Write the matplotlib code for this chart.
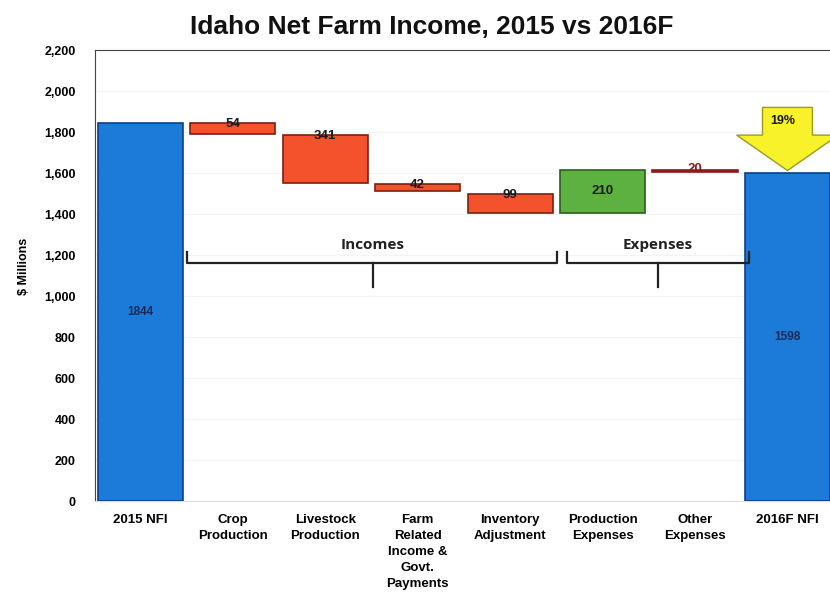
import matplotlib
matplotlib.use("Agg")
import matplotlib.pyplot as plt
from matplotlib.patches import Polygon

plt.rcParams['font.family'] = ['Liberation Sans Narrow', 'Liberation Sans', 'DejaVu Sans']

categories = ["2015 NFI", "Crop\nProduction", "Livestock\nProduction",
              "Farm\nRelated\nIncome &\nGovt.\nPayments", "Inventory\nAdjustment",
              "Production\nExpenses", "Other\nExpenses", "2016F NFI"]
# bar bottoms and tops as drawn in the picture ($ millions)
bar_low = [0, 1790, 1550, 1510, 1405, 1405, 1604, 0]
bar_high = [1844, 1844, 1785, 1545, 1500, 1615, 1614, 1598]
labels = ["1844", "54", "341", "42", "99", "210", "20", "1598"]
kinds = ["total", "inc", "inc", "inc", "inc", "exp", "other", "total"]
change_pct = "19%"

colors = {"total": "#1c7ad9", "inc": "#f4522c", "exp": "#5db141", "other": "#8e1b1b"}
edges = {"total": "#0d3f8a", "inc": "#7a2010", "exp": "#2f5e1f", "other": "#8e1b1b"}

fig = plt.figure(figsize=(8.3, 5.99), dpi=100)
ax = fig.add_axes([0.1145, 0.1636, 0.8855, 0.7529])

x = list(range(len(categories)))
for i in x:
    k = kinds[i]
    ax.bar(i, bar_high[i] - bar_low[i], bottom=bar_low[i], width=0.92,
           color=colors[k], edgecolor=edges[k], linewidth=1.2, zorder=3)

# value labels
for i in x:
    k = kinds[i]
    if k == "total":
        ax.text(i, bar_high[i] / 2, labels[i], ha="center", va="center",
                fontsize=8.5, fontweight="bold", color="#1a2a55", zorder=5)
    elif k == "exp":
        ax.text(i, (bar_low[i] + bar_high[i]) / 2, labels[i], ha="center", va="center",
                fontsize=9.5, fontweight="bold", color="#1a1a1a", zorder=5)
    elif k == "other":
        ax.text(i, bar_high[i] + 5, labels[i], ha="center", va="center",
                fontsize=9.5, fontweight="bold", color="#8e1b1b", zorder=5)
    else:
        ax.text(i, bar_high[i] - 5, labels[i], ha="center", va="center",
                fontsize=9.5, fontweight="bold", color="#1a1a1a", zorder=5)

# braces
def brace(x0, x1, xm, y, ytop, ybot, label):
    ax.plot([x0, x0, x1, x1], [ytop, y, y, ytop], color="#222222", lw=1.6, zorder=4)
    ax.plot([xm, xm], [y, ybot], color="#222222", lw=1.6, zorder=4)
    ax.text((x0 + x1) / 2, ytop, label, ha="center", va="bottom",
            fontsize=11, fontweight="bold", family=["Open Sans", "DejaVu Sans"], color="#222222")

brace(0.51, 4.51, 2.52, 1160, 1215, 1045, "Incomes")
brace(4.62, 6.58, 5.6, 1160, 1215, 1045, "Expenses")

# yellow arrow above 2016F
xa = 7
arrow = Polygon([[xa - 0.27, 1920], [xa + 0.27, 1920], [xa + 0.27, 1785],
                 [xa + 0.55, 1785], [xa, 1612], [xa - 0.55, 1785], [xa - 0.27, 1785]],
                closed=True, facecolor="#f8f22a", edgecolor="#9a9a20", lw=1.0,
                zorder=6, clip_on=False)
ax.add_patch(arrow)
ax.text(xa - 0.05, 1855, change_pct, ha="center", va="center", fontsize=9,
        fontweight="bold", color="#1a1a1a", zorder=7)

ax.set_xlim(-0.49, 7.46)
ax.set_ylim(0, 2200)
ax.set_yticks(range(0, 2201, 200))
ax.set_yticklabels([f"{v:,}" for v in range(0, 2201, 200)], fontsize=9, fontweight="bold",
                   family=["Liberation Sans", "DejaVu Sans"])
ax.set_xticks(x)
ax.set_xticklabels(categories, fontsize=9.5, fontweight="bold", linespacing=1.45,
                   family=["Liberation Sans Narrow", "Liberation Sans", "DejaVu Sans"])
ax.tick_params(axis="x", length=0, pad=9)
ax.tick_params(axis="y", length=0, pad=14)
ax.set_ylabel("$ Millions", fontsize=9, fontweight="bold")
ax.yaxis.set_label_coords(-0.088, 0.52)

ax.grid(axis="y", color="#f3f3f3", lw=0.8, zorder=0)
ax.spines["right"].set_visible(False)
ax.spines["top"].set_color("#444444")
ax.spines["left"].set_color("#444444")
ax.spines["bottom"].set_color("#dddddd")

fig.text(0.52, 0.955, "Idaho Net Farm Income, 2015 vs 2016F", ha="center", va="center",
         fontsize=19, fontweight="bold", color="#111111")

plt.savefig("out.png", dpi=100)
